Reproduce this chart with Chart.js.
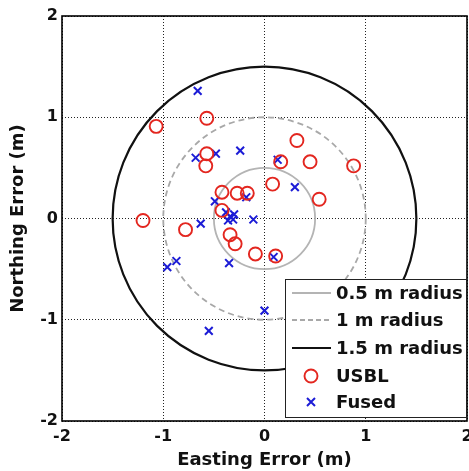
<!DOCTYPE html>
<html>
<head>
<meta charset="utf-8">
<script src="https://cdn.jsdelivr.net/npm/chart.js@4/dist/chart.umd.min.js"></script>
<style>
  html, body { margin: 0; padding: 0; background: #fff; }
  #wrap { width: 469px; height: 471px; position: relative; }
</style>
</head>
<body>
<div id="wrap"><canvas id="errChart"></canvas></div>
<script>
// values (metres)
const usblEast  = [-1.07, -0.57, -0.57, -0.58, 0.32, 0.16, 0.45, 0.88, 0.08, 0.54, -0.42, -0.27, -0.17, -0.42, -0.34, -0.29, -0.78, -1.20, -0.09, 0.11];
const usblNorth = [0.91, 0.99, 0.64, 0.52, 0.77, 0.56, 0.56, 0.52, 0.34, 0.19, 0.26, 0.25, 0.25, 0.08, -0.16, -0.25, -0.11, -0.02, -0.35, -0.37];

const fusedEast  = [-0.66, -0.68, -0.48, -0.24, 0.13, 0.30, -0.18, -0.49, -0.38, -0.34, -0.31, -0.36, -0.30, -0.63, -0.11, -0.35, 0.09, 0.00, -0.96, -0.87, -0.55];
const fusedNorth = [1.26, 0.60, 0.64, 0.67, 0.58, 0.31, 0.21, 0.17, 0.06, 0.02, -0.01, -0.02, 0.04, -0.05, -0.01, -0.44, -0.38, -0.91, -0.48, -0.42, -1.11];

const ringRadii  = [0.5, 1, 1.5];
const ringLabels = ['0.5 m radius', '1 m radius', '1.5 m radius'];
const seriesLabels = ['USBL', 'Fused'];
const axisTicks = [-2, -1, 0, 1, 2];

const ringStyles = [
    { color: '#b4b4b4', width: 1.8, dash: [] },
    { color: '#a8a8a8', width: 1.8, dash: [6, 4] },
    { color: '#111111', width: 2.2, dash: [] }
];

const FONT = 'DejaVu Sans';

function toPoints(xs, ys) {
    return xs.map((x, i) => ({ x: x, y: ys[i] }));
}

const ringsPlugin = {
    id: 'rings',
    beforeDatasetsDraw(chart) {
        const { ctx, chartArea, scales: { x, y } } = chart;
        const cx = x.getPixelForValue(0);
        const cy = y.getPixelForValue(0);
        ctx.save();
        ctx.beginPath();
        ctx.rect(chartArea.left, chartArea.top, chartArea.width, chartArea.height);
        ctx.clip();
        ringRadii.forEach((r, i) => {
            const st = ringStyles[i];
            const rx = x.getPixelForValue(r) - cx;
            const ry = cy - y.getPixelForValue(r);
            ctx.beginPath();
            ctx.strokeStyle = st.color;
            ctx.lineWidth = st.width;
            ctx.setLineDash(st.dash);
            ctx.ellipse(cx, cy, rx, ry, 0, 0, Math.PI * 2);
            ctx.stroke();
        });
        ctx.restore();
    },
    afterDatasetsDraw(chart) {
        const { ctx, chartArea } = chart;
        ctx.save();
        // frame
        ctx.strokeStyle = '#000';
        ctx.lineWidth = 1.6;
        ctx.setLineDash([]);
        ctx.strokeRect(chartArea.left, chartArea.top, chartArea.width, chartArea.height);

        // legend box in lower right
        const bx = 285, by = 279, bw = chartArea.right - bx, bh = 139;
        ctx.fillStyle = '#fff';
        ctx.fillRect(bx, by, bw, bh);
        ctx.lineWidth = 1;
        ctx.strokeStyle = '#222';
        ctx.strokeRect(bx + 0.5, by + 0.5, bw - 1, bh - 1);

        ctx.font = 'bold 18px "' + FONT + '"';
        ctx.textBaseline = 'middle';
        ctx.fillStyle = '#111';
        const rowY = [293, 320, 348, 376, 402];
        ringLabels.forEach((lab, i) => {
            const st = ringStyles[i];
            ctx.beginPath();
            ctx.strokeStyle = st.color;
            ctx.lineWidth = st.width;
            ctx.setLineDash(st.dash.length ? [5, 3] : []);
            ctx.moveTo(292, rowY[i]);
            ctx.lineTo(331, rowY[i]);
            ctx.stroke();
            ctx.setLineDash([]);
            ctx.fillText(lab, 336, rowY[i] + 1);
        });
        chart.data.datasets.forEach((ds, i) => {
            const yy = rowY[3 + i];
            ctx.strokeStyle = ds.borderColor;
            ctx.lineWidth = ds.borderWidth;
            ctx.beginPath();
            if (ds.pointStyle === 'circle') {
                ctx.arc(311, yy, 6.5, 0, Math.PI * 2);
            } else {
                const s = 4;
                ctx.moveTo(311 - s, yy - s); ctx.lineTo(311 + s, yy + s);
                ctx.moveTo(311 + s, yy - s); ctx.lineTo(311 - s, yy + s);
            }
            ctx.stroke();
            ctx.fillText(ds.label, 336, yy + 1);
        });
        ctx.restore();
    }
};

const axisBase = {
    type: 'linear',
    min: -2,
    max: 2,
    grid: { color: '#222', lineWidth: 1, drawTicks: false },
    border: { display: false, dash: [1, 2] },
    afterBuildTicks: (scale) => { scale.ticks = axisTicks.map(v => ({ value: v })); }
};

new Chart(document.getElementById('errChart'), {
    type: 'scatter',
    data: {
        datasets: [
            {
                label: seriesLabels[0],
                data: toPoints(usblEast, usblNorth),
                pointStyle: 'circle',
                pointRadius: 6.5,
                pointHoverRadius: 6.5,
                borderColor: '#e3261f',
                backgroundColor: 'rgba(0,0,0,0)',
                borderWidth: 1.9
            },
            {
                label: seriesLabels[1],
                data: toPoints(fusedEast, fusedNorth),
                pointStyle: 'crossRot',
                pointRadius: 5.5,
                pointHoverRadius: 5.5,
                borderColor: '#1c1cd6',
                backgroundColor: '#1c1cd6',
                borderWidth: 2
            }
        ]
    },
    options: {
        responsive: true,
        maintainAspectRatio: false,
        animation: false,
        layout: { autoPadding: false, padding: { top: 16, right: 2, left: 0, bottom: 0 } },
        plugins: {
            legend: { display: false },
            tooltip: { enabled: false }
        },
        scales: {
            x: Object.assign({}, axisBase, {
                position: 'bottom',
                ticks: { color: '#111', padding: 6, font: { family: FONT, size: 16, weight: 'bold' } },
                title: {
                    display: true,
                    text: 'Easting Error (m)',
                    color: '#111',
                    padding: { top: 5, bottom: 0 },
                    font: { family: FONT, size: 18, weight: 'bold' }
                },
                afterFit: (scale) => {
                    scale.height = 50;
                    scale.paddingLeft = 0;
                    scale.paddingRight = 0;
                }
            }),
            y: Object.assign({}, axisBase, {
                position: 'left',
                ticks: { color: '#111', padding: 4, font: { family: FONT, size: 16, weight: 'bold' } },
                title: {
                    display: true,
                    text: 'Northing Error (m)',
                    color: '#111',
                    padding: { top: 8, bottom: 0 },
                    font: { family: FONT, size: 18, weight: 'bold' }
                },
                afterFit: (scale) => {
                    scale.width = 62;
                }
            })
        }
    },
    plugins: [ringsPlugin]
});
</script>
</body>
</html>
